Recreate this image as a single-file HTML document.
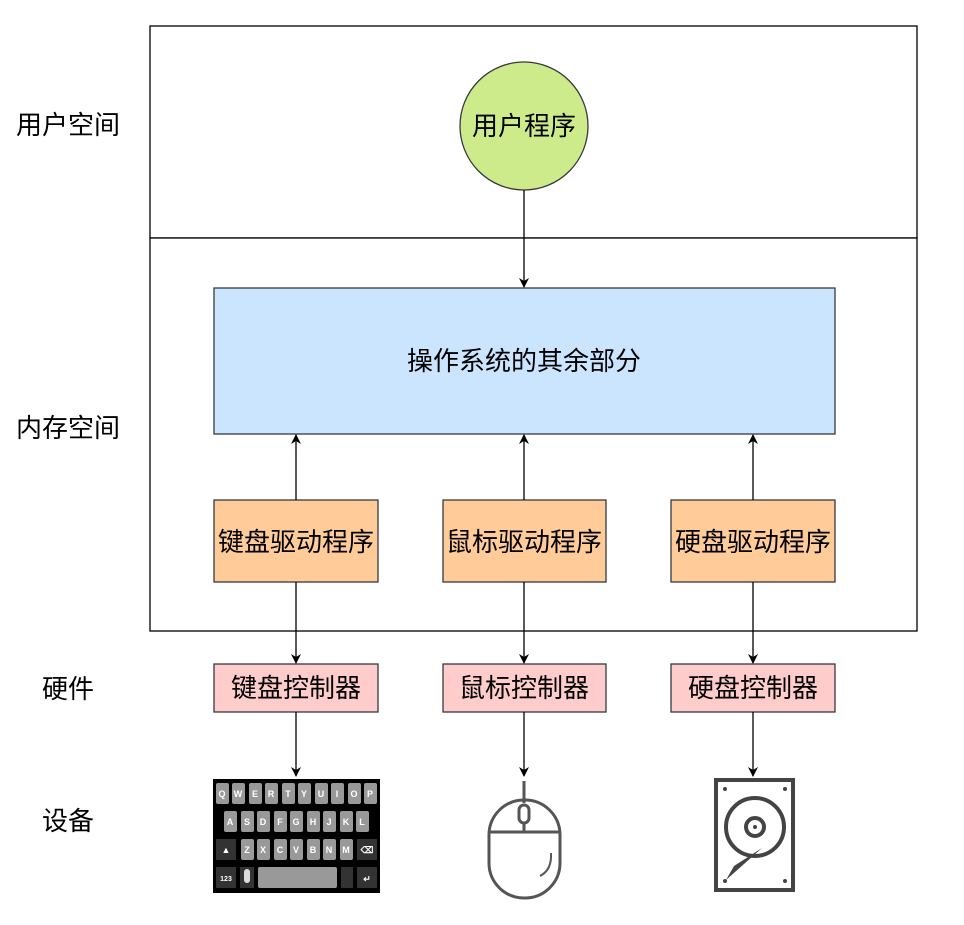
<!DOCTYPE html>
<html><head><meta charset="utf-8"><style>
body{margin:0;background:#fff;width:964px;height:920px;overflow:hidden}
svg text{font-family:"Liberation Sans","Noto Sans CJK SC",sans-serif;}
</style></head><body>
<svg width="964" height="920" viewBox="0 0 964 920" xmlns="http://www.w3.org/2000/svg">
<defs><marker id="a" markerWidth="10" markerHeight="10" refX="9" refY="5" orient="auto" markerUnits="userSpaceOnUse"><path d="M0,0 L10,5 L0,10 L3,5 z" fill="#000"/></marker></defs>
<rect x="150" y="26" width="767" height="212" fill="#fff" stroke="#000" stroke-width="1.3"/>
<rect x="150" y="238" width="767" height="393" fill="#fff" stroke="#000" stroke-width="1.3"/>
<g font-size="26" fill="#000">
<text x="16" y="134">用户空间</text>
<text x="16" y="437">内存空间</text>
<text x="42" y="698">硬件</text>
<text x="42" y="830">设备</text>
</g>
<circle cx="524" cy="126" r="64" fill="#cdeb8b" stroke="#36393d" stroke-width="1.3"/>
<text x="524" y="135" font-size="26" text-anchor="middle">用户程序</text>
<rect x="214" y="288" width="621" height="146" fill="#cce5ff" stroke="#36393d" stroke-width="1.3"/>
<text x="524" y="370" font-size="26" text-anchor="middle">操作系统的其余部分</text>
<g fill="#ffcc99" stroke="#36393d" stroke-width="1.3">
<rect x="214" y="500" width="164" height="82"/><rect x="443" y="500" width="163" height="82"/><rect x="671" y="500" width="164" height="82"/></g>
<g font-size="26" text-anchor="middle">
<text x="296" y="551">键盘驱动程序</text><text x="524" y="551">鼠标驱动程序</text><text x="753" y="551">硬盘驱动程序</text></g>
<g fill="#ffcccc" stroke="#36393d" stroke-width="1.3">
<rect x="214" y="664" width="164" height="48"/><rect x="443" y="664" width="163" height="48"/><rect x="671" y="664" width="164" height="48"/></g>
<g font-size="26" text-anchor="middle">
<text x="296" y="697">键盘控制器</text><text x="524" y="697">鼠标控制器</text><text x="753" y="697">硬盘控制器</text></g>
<g stroke="#000" stroke-width="1.3" marker-end="url(#a)">
<line x1="524" y1="190" x2="524" y2="287"/>
<line x1="296" y1="500" x2="296" y2="435"/><line x1="524" y1="500" x2="524" y2="435"/><line x1="753" y1="500" x2="753" y2="435"/>
<line x1="296" y1="582" x2="296" y2="663"/><line x1="524" y1="582" x2="524" y2="663"/><line x1="753" y1="582" x2="753" y2="663"/>
<line x1="296" y1="712" x2="296" y2="776"/><line x1="524" y1="712" x2="524" y2="776"/><line x1="753" y1="712" x2="753" y2="776"/>
</g>
<!-- keyboard -->
<rect x="213" y="779" width="167" height="114" fill="#000"/>
<g fill="#999">
<rect x="216" y="783" width="13" height="21" rx="2"/><rect x="232" y="783" width="13" height="21" rx="2"/><rect x="249" y="783" width="13" height="21" rx="2"/><rect x="265" y="783" width="13" height="21" rx="2"/><rect x="282" y="783" width="13" height="21" rx="2"/><rect x="298" y="783" width="13" height="21" rx="2"/><rect x="315" y="783" width="13" height="21" rx="2"/><rect x="331" y="783" width="13" height="21" rx="2"/><rect x="348" y="783" width="13" height="21" rx="2"/><rect x="364" y="783" width="13" height="21" rx="2"/>
<rect x="224" y="811" width="13" height="21" rx="2"/><rect x="241" y="811" width="13" height="21" rx="2"/><rect x="257" y="811" width="13" height="21" rx="2"/><rect x="274" y="811" width="13" height="21" rx="2"/><rect x="290" y="811" width="13" height="21" rx="2"/><rect x="307" y="811" width="13" height="21" rx="2"/><rect x="323" y="811" width="13" height="21" rx="2"/><rect x="340" y="811" width="13" height="21" rx="2"/><rect x="356" y="811" width="13" height="21" rx="2"/>
<rect x="241" y="839" width="13" height="21" rx="2"/><rect x="257" y="839" width="13" height="21" rx="2"/><rect x="274" y="839" width="13" height="21" rx="2"/><rect x="290" y="839" width="13" height="21" rx="2"/><rect x="307" y="839" width="13" height="21" rx="2"/><rect x="323" y="839" width="13" height="21" rx="2"/><rect x="340" y="839" width="13" height="21" rx="2"/>
<rect x="258" y="867" width="79" height="21" rx="2"/>
</g>
<g fill="#333"><rect x="216" y="839" width="20" height="21"/><rect x="357" y="839" width="20" height="21"/><rect x="216" y="867" width="20" height="21"/><rect x="240" y="867" width="14" height="21"/><rect x="341" y="867" width="12" height="21"/><rect x="357" y="867" width="20" height="21"/></g>
<g fill="#fff" font-size="9" text-anchor="middle" font-weight="bold">
<text x="222" y="797">Q</text><text x="238" y="797">W</text><text x="255" y="797">E</text><text x="271" y="797">R</text><text x="288" y="797">T</text><text x="304" y="797">Y</text><text x="321" y="797">U</text><text x="337" y="797">I</text><text x="354" y="797">O</text><text x="370" y="797">P</text>
<text x="230" y="825">A</text><text x="247" y="825">S</text><text x="263" y="825">D</text><text x="280" y="825">F</text><text x="296" y="825">G</text><text x="313" y="825">H</text><text x="329" y="825">J</text><text x="346" y="825">K</text><text x="362" y="825">L</text>
<text x="226" y="853">▲</text><text x="247" y="853">Z</text><text x="263" y="853">X</text><text x="280" y="853">C</text><text x="296" y="853">V</text><text x="313" y="853">B</text><text x="329" y="853">N</text><text x="346" y="853">M</text><text x="367" y="853">⌫</text>
<text x="226" y="881" font-size="7">123</text><text x="367" y="882">↵</text></g>
<rect x="244" y="869" width="6" height="14" rx="3" fill="#ddd"/>
<!-- mouse -->
<g fill="none" stroke="#555" stroke-width="3">
<line x1="524" y1="781" x2="524" y2="803"/>
<rect x="489" y="800" width="71" height="98" rx="35"/>
<line x1="489" y1="832" x2="560" y2="832"/><line x1="524" y1="823" x2="524" y2="832"/>
<rect x="519" y="805" width="10" height="18" rx="5"/>
<path d="M540 876 Q552 870 551 853" stroke-width="2"/>
</g>
<!-- hdd -->
<rect x="716" y="780" width="77" height="110" fill="none" stroke="#444" stroke-width="4"/>
<g fill="#444"><circle cx="725" cy="789" r="2"/><circle cx="785" cy="789" r="2"/><circle cx="725" cy="881" r="2"/><circle cx="785" cy="881" r="2"/></g>
<circle cx="755" cy="827" r="29" fill="none" stroke="#444" stroke-width="4"/>
<circle cx="755" cy="827" r="9" fill="none" stroke="#444" stroke-width="4"/>
<circle cx="755" cy="827" r="2" fill="#444"/>
<path d="M726 880 L734 866 L762 848 Z" fill="#444"/>
</svg>
</body></html>
